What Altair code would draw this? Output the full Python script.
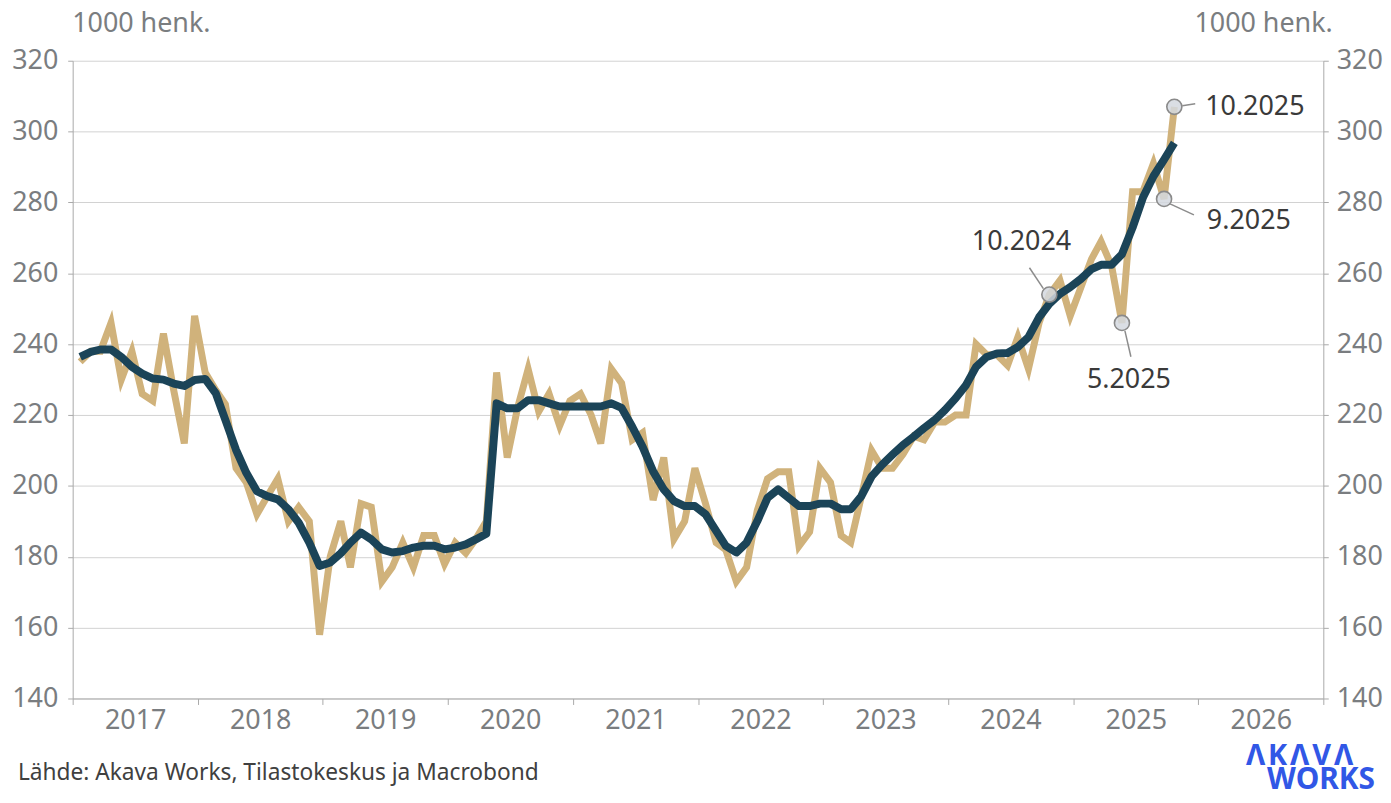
import altair as alt
import pandas as pd

# ---------------- data ----------------
start_month = "2017-01"

# Työttömät (kuukausiarvot), 1000 henk.
unemployed = [
    235, 238, 238, 246, 230, 238, 226, 224, 243, 227, 212, 248,   # 2017
    232, 227, 223, 205, 201, 192, 197, 202, 190, 194, 190, 158,   # 2018
    180, 190, 177, 195, 194, 173, 177, 184, 177, 186, 186, 178,   # 2019
    184, 181, 185, 190, 232, 208, 222, 233, 221, 226, 217, 224,   # 2020
    226, 220, 212, 233, 229, 213, 215, 196, 208, 185, 190, 205,   # 2021
    195, 184, 182, 173, 177, 193, 202, 204, 204, 183, 187, 205,   # 2022
    201, 186, 184, 197, 210, 205, 205, 209, 214, 213, 218, 218,   # 2023
    220, 220, 240, 237, 237, 234, 242, 233, 246, 254, 258, 248,   # 2024
    256, 264, 269, 262, 246, 283, 283, 291, 281, 307,             # 2025
]

# Trendi, 1000 henk.
trend = [
    236.4, 237.8, 238.5, 238.5, 236.4, 233.6, 231.7, 230.3, 230.0, 228.9, 228.2, 229.9,
    230.2, 226.1, 218.6, 210.2, 203.7, 198.5, 197.1, 196.2, 193.4, 189.6, 184.0, 177.4,
    178.4, 181.0, 184.0, 186.8, 184.9, 182.1, 181.2, 181.6, 182.6, 183.1, 183.1, 182.1,
    182.6, 183.5, 184.9, 186.5, 223.3, 221.9, 221.9, 224.2, 224.2, 223.3, 222.4, 222.4,
    222.4, 222.4, 222.4, 223.3, 222.0, 216.7, 211.1, 204.1, 199.0, 195.7, 194.3, 194.3,
    192.0, 187.3, 183.1, 181.2, 184.0, 190.0, 196.6, 199.0, 196.6, 194.3, 194.3, 195.0,
    195.0, 193.4, 193.4, 197.1, 202.7, 206.0, 208.8, 211.6, 213.9, 216.3, 218.6, 221.4,
    224.7, 228.5, 233.6, 236.4, 237.4, 237.5, 239.2, 242.0, 247.6, 251.4, 254.2, 256.1,
    258.4, 261.2, 262.4, 262.4, 265.4, 272.9, 281.3, 287.4, 292.1, 296.8,
]

ann_labels = ["10.2024", "5.2025", "9.2025", "10.2025"]
ann_months = ["2024-10", "2025-05", "2025-09", "2025-10"]

y_ticks = [140, 160, 180, 200, 220, 240, 260, 280, 300, 320]
x_years = list(range(2017, 2028))

unit_label = "1000 henk."
source_text = "Lähde: Akava Works, Tilastokeskus ja Macrobond"
logo_top = "Λ\u200aK\u200aΛ\u200aV\u200aΛ"
logo_bottom = "WORKS"

# ---------------- styling / layout ----------------
FONT = "Noto Sans"
TAN = "#d0b27b"
DARK = "#1b4458"
GRAY_TXT = "#7a7d80"
AXIS_GRAY = "#a9a9a9"
GRID = "#d2d2d2"
ANN_TXT = "#3a3a3a"
LOGO = "#3157e6"

W, H = 1257, 641

ann_layout = {
    "10.2025": dict(dx=31, dy=0, align="left", line=(8, -1, 21, -3)),
    "9.2025": dict(dx=43, dy=22, align="left", line=(6, 5, 30, 16)),
    "5.2025": dict(dx=7, dy=57, align="center", line=(3, 8, 9, 34)),
    "10.2024": dict(dx=-28, dy=-53, align="center", line=(-6, -6, -20, -27)),
}

# ---------------- tables ----------------
months = pd.period_range(start_month, periods=len(unemployed), freq="M")
dates = (months.to_timestamp() + pd.Timedelta(days=22)).strftime("%Y-%m-%d")
df = pd.DataFrame({"date": dates, "unemployed": unemployed, "trend": trend})

lookup = {str(p): (d, v) for p, d, v in zip(months, dates, unemployed)}
ann = pd.DataFrame({
    "label": ann_labels,
    "date": [lookup[m][0] for m in ann_months],
    "value": [lookup[m][1] for m in ann_months],
})

# ---------------- scales / axes ----------------
xscale = alt.Scale(
    type="utc",
    domain=[alt.DateTime(year=2017, month=1, date=1, utc=True),
            alt.DateTime(year=2027, month=1, date=1, utc=True)],
    nice=False,
)
xaxis = alt.Axis(
    values=[alt.DateTime(year=y, month=1, date=1, utc=True) for y in x_years],
    labelExpr="utcyear(datum.value) < 2027 ? utcFormat(datum.value, '%Y') : ''",
    labelOffset=W / 10 / 2,
    labelOverlap=False, labelFlush=False, labelBound=False,
    tickSize=6, tickColor=AXIS_GRAY, domainColor=AXIS_GRAY,
    labelPadding=3, labelFont=FONT, labelFontSize=27, labelColor=GRAY_TXT,
    grid=False, title=None,
)
yscale = alt.Scale(domain=[140, 320], nice=False, zero=False)


def y_axis(orient):
    common = dict(
        values=y_ticks, tickSize=5, tickColor=AXIS_GRAY, domainColor=AXIS_GRAY,
        labelFont=FONT, labelFontSize=27, labelColor=GRAY_TXT,
        title=unit_label, titleAngle=0, titleBaseline="middle", titleY=-37,
        titleFont=FONT, titleFontSize=27, titleFontWeight="normal", titleColor=GRAY_TXT,
    )
    if orient == "left":
        return alt.Axis(orient="left", grid=True, gridColor=GRID, gridWidth=1,
                        labelPadding=10, titleAlign="left", titleX=-1, **common)
    return alt.Axis(orient="right", grid=False, labelPadding=8,
                    titleAlign="right", titleX=9, **common)


X = alt.X("date:T", scale=xscale, axis=xaxis)

tan_line = alt.Chart(df).mark_line(color=TAN, strokeWidth=7, strokeJoin="miter").encode(
    x=X, y=alt.Y("unemployed:Q", scale=yscale, axis=y_axis("left"))
)
right_axis = alt.Chart(df).mark_line(strokeOpacity=0).encode(
    x=X, y=alt.Y("unemployed:Q", scale=yscale, axis=y_axis("right"))
)
dark_line = alt.Chart(df).mark_line(color=DARK, strokeWidth=8, strokeJoin="round", strokeCap="butt").encode(
    x=X, y=alt.Y("trend:Q", scale=yscale, axis=None)
)

layers = [tan_line, right_axis, dark_line]

for lab in ann_labels:
    lay = ann_layout[lab]
    x1, y1, x2, y2 = lay["line"]
    sub = ann[ann["label"] == lab]
    layers.append(
        alt.Chart(sub).mark_rule(color="#8c8c8c", strokeWidth=1.5,
                                 xOffset=x1, yOffset=y1, x2Offset=x2, y2Offset=y2).encode(
            x=X, x2="date:T",
            y=alt.Y("value:Q", scale=yscale, axis=None), y2="value:Q",
        )
    )

layers.append(
    alt.Chart(ann).mark_point(shape="circle", size=230, filled=True, fill="#d3d8df",
                              fillOpacity=0.85, stroke="#8a8a8a", strokeWidth=1.6).encode(
        x=X, y=alt.Y("value:Q", scale=yscale, axis=None)
    )
)

for lab in ann_labels:
    lay = ann_layout[lab]
    sub = ann[ann["label"] == lab]
    layers.append(
        alt.Chart(sub).mark_text(align=lay["align"], baseline="middle", dx=lay["dx"], dy=lay["dy"],
                                 font=FONT, fontSize=27, color=ANN_TXT).encode(
            x=X, y=alt.Y("value:Q", scale=yscale, axis=None), text="label:N"
        )
    )

one = pd.DataFrame({"a": [0]})
layers.append(
    alt.Chart(one).mark_text(align="left", baseline="middle", font=FONT, fontSize=22.8,
                             color="#404040", text=source_text).encode(
        x=alt.value(-55), y=alt.value(716)
    )
)
layers.append(
    alt.Chart(one).mark_text(align="right", baseline="middle", font=FONT, fontSize=29,
                             fontWeight="bold", color=LOGO, text=logo_top).encode(
        x=alt.value(1287), y=alt.value(699)
    )
)
layers.append(
    alt.Chart(one).mark_text(align="right", baseline="middle", font=FONT, fontSize=30,
                             fontWeight="bold", color=LOGO, text=logo_bottom).encode(
        x=alt.value(1309), y=alt.value(723)
    )
)

chart = (
    alt.layer(*layers)
    .resolve_scale(y="independent")
    .properties(
        width=W, height=H,
        autosize=alt.AutoSizeParams(type="none"),
        padding={"left": 65, "top": 51, "right": 60, "bottom": 95},
    )
    .configure_view(stroke=None)
)

chart.save("out.html", embed_options={"renderer": "svg", "actions": False})
